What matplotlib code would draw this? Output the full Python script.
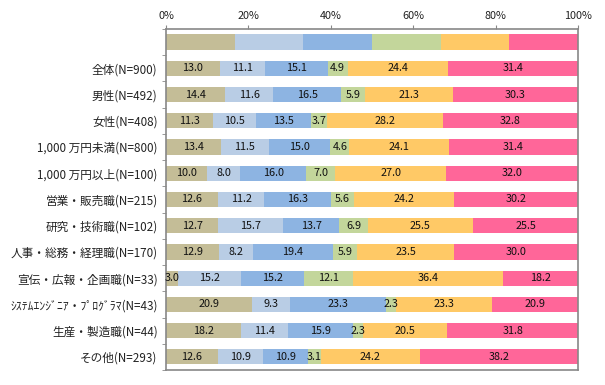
import matplotlib
matplotlib.use('Agg')
import matplotlib.pyplot as plt
import numpy as np

plt.rcParams['font.family'] = ['Noto Sans CJK JP', 'DejaVu Sans']

# category labels, top to bottom (first row is the colour key bar)
categories = ['', '全体(N=900)', '男性(N=492)', '女性(N=408)',
              '1,000 万円未満(N=800)', '1,000 万円以上(N=100)',
              '営業・販売職(N=215)', '研究・技術職(N=102)',
              '人事・総務・経理職(N=170)', '宣伝・広報・企画職(N=33)',
              'ｼｽﾃﾑｴﾝｼﾞﾆｱ・ﾌﾟﾛｸﾞﾗﾏ(N=43)', '生産・製造職(N=44)',
              'その他(N=293)']

# one list per segment (left to right), values in %
seg1 = [13.0, 14.4, 11.3, 13.4, 10.0, 12.6, 12.7, 12.9, 3.0, 20.9, 18.2, 12.6]
seg2 = [11.1, 11.6, 10.5, 11.5, 8.0, 11.2, 15.7, 8.2, 15.2, 9.3, 11.4, 10.9]
seg3 = [15.1, 16.5, 13.5, 15.0, 16.0, 16.3, 13.7, 19.4, 15.2, 23.3, 15.9, 10.9]
seg4 = [4.9, 5.9, 3.7, 4.6, 7.0, 5.6, 6.9, 5.9, 12.1, 2.3, 2.3, 3.1]
seg5 = [24.4, 21.3, 28.2, 24.1, 27.0, 24.2, 25.5, 23.5, 36.4, 23.3, 20.5, 24.2]
seg6 = [31.4, 30.3, 32.8, 31.4, 32.0, 30.2, 25.5, 30.0, 18.2, 20.9, 31.8, 38.2]

colors = ['#C4BD97', '#B9CDE5', '#8DB4E2', '#C3D69B', '#FFC966', '#FF6699']

segments = [seg1, seg2, seg3, seg4, seg5, seg6]

fig = plt.figure(figsize=(6.05, 3.85), dpi=100)
ax = fig.add_axes([0.2744, 0.039, 0.6810, 0.8857])

n = len(categories)
y = np.arange(n)
bar_h = 0.58

# key bar: six equal parts
key_w = 100 / len(colors)
for i, c in enumerate(colors):
    ax.barh(0, key_w, left=i * key_w, height=bar_h, color=c, edgecolor='none')

left = np.zeros(n - 1)
for seg, c in zip(segments, colors):
    vals = np.array(seg)
    ax.barh(y[1:], vals, left=left, height=bar_h, color=c, edgecolor='none')
    for yi, l, v in zip(y[1:], left, vals):
        ax.text(l + v / 2, yi, f'{v:.1f}', ha='center', va='center',
                fontsize=7.8, color='#111111')
    left += vals

ax.set_xlim(0, 100)
ax.set_ylim(n - 0.5, -0.5)

ax.xaxis.tick_top()
ax.set_xticks([0, 20, 40, 60, 80, 100])
ax.set_xticklabels(['0%', '20%', '40%', '60%', '80%', '100%'])
ax.tick_params(axis='x', length=3, color='#888888', labelsize=7.8, pad=3,
               labelcolor='#222222')

ax.set_yticks(y)
ax.set_yticklabels(categories)
ax.tick_params(axis='y', length=0, labelsize=8.4, pad=6, labelcolor='#222222')
ax.set_yticks(np.arange(n + 1) - 0.5, minor=True)
ax.tick_params(axis='y', which='minor', length=3, color='#888888')

for s in ['top', 'left', 'bottom', 'right']:
    ax.spines[s].set_color('#888888')
    ax.spines[s].set_linewidth(1.2)

fig.savefig('out.png', dpi=100)
